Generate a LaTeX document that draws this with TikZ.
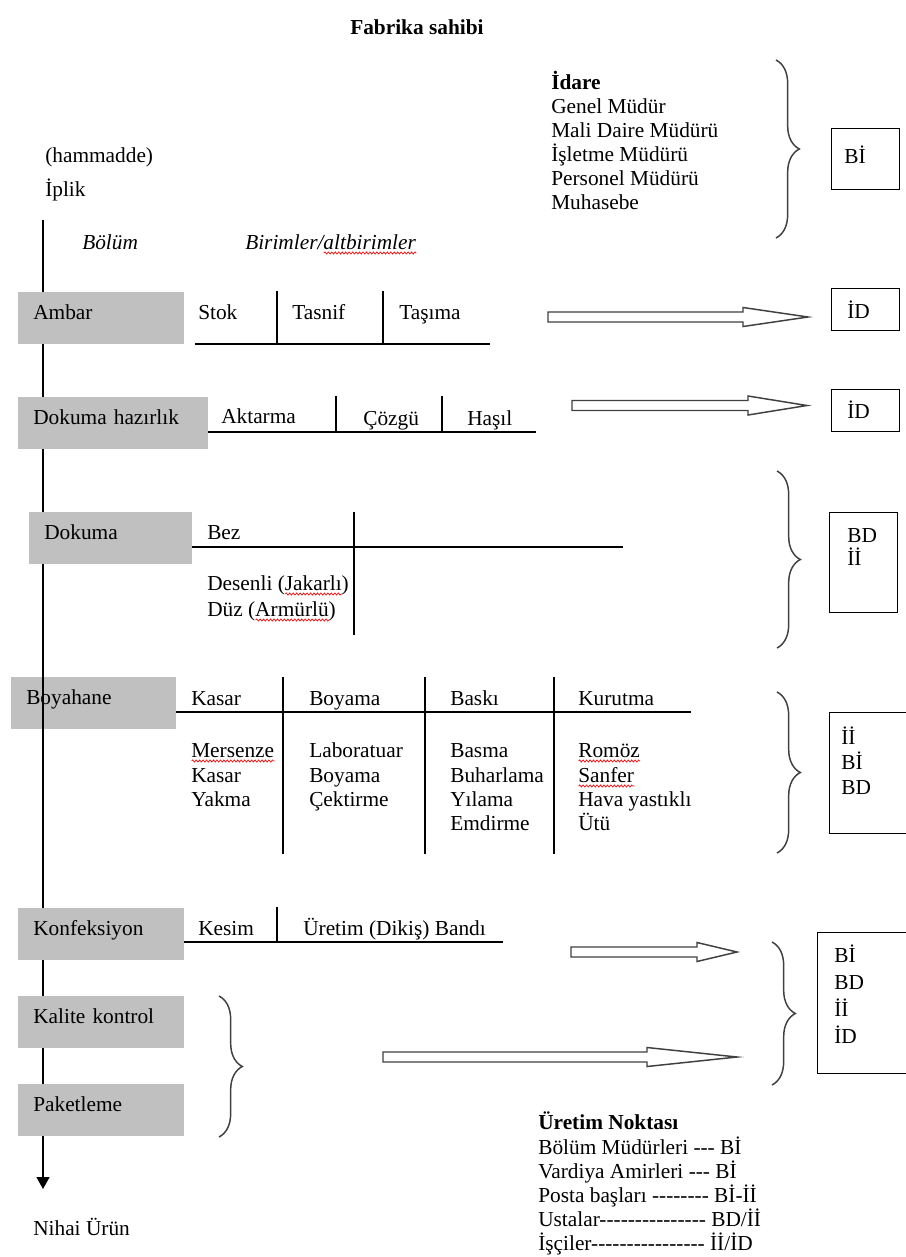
\documentclass[tikz,border=0pt]{standalone}
\usepackage{fontspec}
\setmainfont{Liberation Serif}[Ligatures=TeXOff]
\usetikzlibrary{arrows.meta,decorations.pathreplacing,decorations.pathmorphing}

\definecolor{deptgray}{RGB}{192,192,192}
\definecolor{inkgray}{RGB}{64,64,64}

% block arrow: tail x, head x, tip x, y
\newcommand{\hollowarrow}[4]{%
  \draw[hollow] (#1,#4-5) -- (#2,#4-5) -- (#2,#4-9.5) -- (#3,#4)
    -- (#2,#4+9.5) -- (#2,#4+5) -- (#1,#4+5) -- cycle;}
% red wavy underline
\newcommand{\typo}[1]{\setbox0\hbox{#1}\rlap{\tikz[baseline=0pt]\draw[typo] (0pt,-3pt) -- (\the\wd0,-3pt);}#1}

\tikzset{
  txt/.style={anchor=west, inner sep=0pt, text height=10.5pt, text depth=0pt},
  dept/.style={fill=deptgray, anchor=north west, inner xsep=11.25pt, inner ysep=0pt,
    text height=20.25pt, text depth=18.75pt, align=left},
  rulebox/.style={draw, line width=1.1pt, anchor=north west, inner sep=0pt},
  tabline/.style={line width=1.1pt},
  flow/.style={line width=1.1pt, -{Triangle[width=9.75pt,length=9pt]}},
  brc/.style={decorate, decoration={brace, amplitude=17.5pt}, draw=inkgray, line width=1.1pt},
  hollow/.style={draw=inkgray, fill=white, line width=1.1pt},
  typo/.style={draw=red, line width=0.5pt, decorate, decoration={snake, amplitude=0.8pt, segment length=2.6pt}},
}

\begin{document}
\begin{tikzpicture}[x=0.75pt, y=-0.75pt, every node/.style={font=\fontsize{16}{19}\selectfont}]
\clip (0,0) rectangle (906,1257);
\fill[white] (0,0) rectangle (906,1257);

% owner and administration
\node[txt, font=\fontsize{16}{19}\selectfont\bfseries] (owner) at (350,27) {Fabrika sahibi};
\node[txt, font=\fontsize{16}{19}\selectfont\bfseries] (idare) at (551,82) {İdare};
\foreach \t [count=\i] in {Genel Müdür,Mali Daire Müdürü,İşletme Müdürü,Personel Müdürü,Muhasebe}
  \node[txt] (idare-\i) at (551,82+24.1*\i) {\t};
\draw[brc] (776,60) -- (776,238);
\node[rulebox, minimum width=51pt, minimum height=45.75pt] (box-top) at (831,128) {};
\node[txt] (bi-top) at (844,156) {Bİ};

\node[txt] (raw) at (45,155) {(hammadde)};
\node[txt] (yarn) at (45,189) {İplik};
\node[txt, font=\fontsize{16}{19}\selectfont\itshape] (h-bolum) at (82,242) {Bölüm};
\node[txt, font=\fontsize{16}{19}\selectfont\itshape] (h-birim) at (245,242) {Birimler/\typo{altbirimler}};

% main flow
\node[dept, text width=101.25pt] (boyahane) at (11,677) {Boyahane};
\coordinate (start) at (43,220);
\coordinate (product) at (43,1189);
\draw[flow] (start) -- (product);
\node[txt] (nihai) at (33,1228) {Nihai Ürün};

% Ambar
\node[dept, text width=102pt] (ambar) at (18,292) {Ambar};
\node[txt] (stok) at (198,312) {Stok};
\node[txt] (tasnif) at (292,312) {Tasnif};
\node[txt] (tasima) at (399,312) {Taşıma};
\draw[tabline] (195,344) -- (490,344) (277,291) -- (277,344) (383,291) -- (383,344);
\hollowarrow{548}{743}{808}{317}
\node[rulebox, minimum width=51pt, minimum height=31.5pt] (box-ambar) at (831,288) {};
\node[txt] (id-ambar) at (847,311) {İD};

% Dokuma hazirlik
\node[dept, text width=120pt] (hazirlik) at (18,397) {Dokuma hazırlık};
\node[txt] (aktarma) at (221,416) {Aktarma};
\node[txt] (cozgu) at (363,418) {Çözgü};
\node[txt] (hasil) at (467,418) {Haşıl};
\draw[tabline] (208,432) -- (536,432) (336,396) -- (336,432) (442,396) -- (442,432);
\hollowarrow{572}{748}{807}{405.5}
\node[rulebox, minimum width=51pt, minimum height=31.5pt] (box-hazirlik) at (831,389) {};
\node[txt] (id-hazirlik) at (847,411) {İD};

% Dokuma
\node[dept, text width=99.75pt] (dokuma) at (29,512) {Dokuma};
\node[txt] (bez) at (207,532) {Bez};
\draw[tabline] (192,547) -- (623,547) (354,512) -- (354,635);
\node[txt] (desenli) at (207,583) {Desenli (\typo{Jakarlı})};
\node[txt] (duz) at (207,609) {Düz (\typo{Armürlü})};
\draw[brc] (777,471) -- (777,648);
\node[rulebox, minimum width=51pt, minimum height=75pt] (box-dokuma) at (829,512) {};
\node[txt] (bd-dokuma) at (847,535) {BD};
\node[txt] (ii-dokuma) at (847,558) {İİ};

% Boyahane
\node[txt] (kasar) at (191,698) {Kasar};
\node[txt] (boyama) at (309,698) {Boyama};
\node[txt] (baski) at (450,698) {Baskı};
\node[txt] (kurutma) at (578,698) {Kurutma};
\draw[tabline] (176,712) -- (691,712) (283,677) -- (283,854) (425,677) -- (425,854) (554,677) -- (554,854);
\node[txt] (kasar-1) at (191,750) {\typo{Mersenze}};
\node[txt] (kasar-2) at (191,775) {Kasar};
\node[txt] (kasar-3) at (191,799) {Yakma};
\node[txt] (boyama-1) at (309,750) {Laboratuar};
\node[txt] (boyama-2) at (309,775) {Boyama};
\node[txt] (boyama-3) at (309,799) {Çektirme};
\node[txt] (baski-1) at (450,750) {Basma};
\node[txt] (baski-2) at (450,775) {Buharlama};
\node[txt] (baski-3) at (450,799) {Yılama};
\node[txt] (baski-4) at (450,823) {Emdirme};
\node[txt] (kurutma-1) at (578,750) {\typo{Romöz}};
\node[txt] (kurutma-2) at (578,775) {\typo{Sanfer}};
\node[txt] (kurutma-3) at (578,799) {Hava yastıklı};
\node[txt] (kurutma-4) at (578,823) {Ütü};
\draw[brc] (777,692) -- (777,853);
\node[rulebox, minimum width=62.25pt, minimum height=90.75pt] (box-boya) at (829,712) {};
\foreach \t [count=\i] in {İİ,Bİ,BD}
  \node[txt] (boya-r\i) at (841,712+25*\i) {\t};

% Konfeksiyon, kalite kontrol, paketleme
\node[dept, text width=102pt] (konf) at (18,908) {Konfeksiyon};
\node[txt] (kesim) at (198,928) {Kesim};
\node[txt] (bant) at (303,928) {Üretim (Dikiş) Bandı};
\draw[tabline] (184,942) -- (503,942) (277,907) -- (277,942);
\hollowarrow{571}{697}{737}{952}
\node[dept, text width=102pt] (kalite) at (18,996) {Kalite kontrol};
\node[dept, text width=102pt] (paket) at (18,1084) {Paketleme};
\draw[brc] (219,996) -- (219,1137);
\hollowarrow{383}{647}{737}{1057}
\draw[brc] (772,942) -- (772,1085);
\node[rulebox, minimum width=71.25pt, minimum height=105.75pt] (box-konf) at (817,932) {};
\foreach \t [count=\i] in {Bİ,BD,İİ,İD}
  \node[txt] (konf-r\i) at (834,927.7+27.3*\i) {\t};

% Uretim noktasi
\node[txt, font=\fontsize{16}{19}\selectfont\bfseries] (uretim) at (538,1122) {Üretim Noktası};
\node[txt] (uretim-1) at (538,1147) {Bölüm Müdürleri --- Bİ};
\node[txt] (uretim-2) at (538,1171) {Vardiya Amirleri --- Bİ};
\node[txt] (uretim-3) at (538,1195) {Posta başları -------- Bİ-İİ};
\node[txt] (uretim-4) at (538,1219) {Ustalar--------------- BD/İİ};
\node[txt] (uretim-5) at (538,1243) {İşçiler---------------- İİ/İD};
\end{tikzpicture}
\end{document}
